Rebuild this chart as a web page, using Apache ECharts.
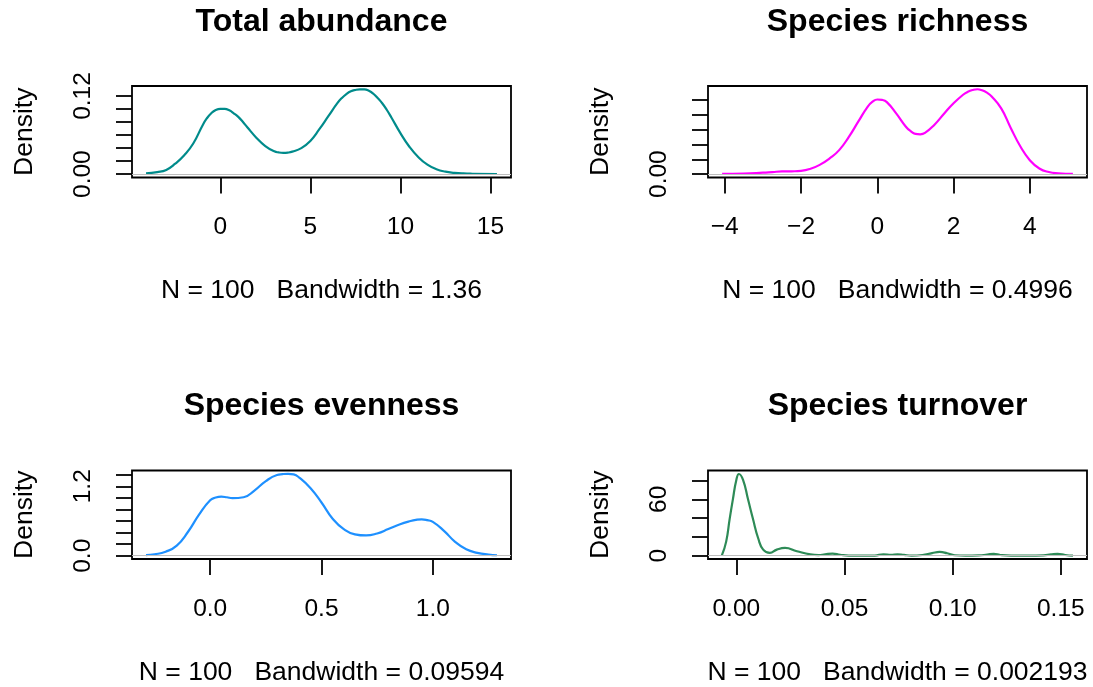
<!DOCTYPE html>
<html>
<head>
<meta charset="utf-8">
<script src="https://cdn.jsdelivr.net/npm/echarts@6/dist/echarts.min.js"></script>
<style>
  html, body { margin: 0; padding: 0; background: #fff; }
  #chart { width: 1093px; height: 687px; }
</style>
</head>
<body>
<div id="chart"></div>
<script>
// panel titles and x-axis captions
const titles = ["Total abundance", "Species richness", "Species evenness", "Species turnover"];
const xlabs = [
  "N = 100   Bandwidth = 1.36",
  "N = 100   Bandwidth = 0.4996",
  "N = 100   Bandwidth = 0.09594",
  "N = 100   Bandwidth = 0.002193"
];

// density curves
const abundX = [-4.12, -3.5, -3.0, -2.5, -2.0, -1.5, -1.0, -0.75, -0.5, -0.25, 0.0, 0.25, 0.5, 0.75, 1.0, 1.25, 1.5, 2.0, 2.5, 3.0, 3.25, 3.5, 3.75, 4.0, 4.5, 5.0, 5.5, 6.0, 6.5, 6.75, 7.0, 7.25, 7.5, 7.75, 8.0, 8.25, 8.5, 8.75, 9.0, 9.25, 9.5, 10.0, 10.5, 11.0, 11.5, 12.0, 12.5, 13.0, 13.5, 14.0, 15.36];
const abundY = [0.001, 0.003, 0.0065, 0.016, 0.029, 0.047, 0.074, 0.0855, 0.0935, 0.0985, 0.1004, 0.1003, 0.098, 0.0935, 0.088, 0.0805, 0.072, 0.056, 0.043, 0.035, 0.0333, 0.0327, 0.0331, 0.0345, 0.040, 0.051, 0.069, 0.089, 0.109, 0.117, 0.123, 0.1272, 0.1293, 0.1302, 0.1301, 0.128, 0.1235, 0.1165, 0.1085, 0.0985, 0.087, 0.063, 0.042, 0.026, 0.0145, 0.0075, 0.0038, 0.002, 0.001, 0.0006, 0.0002];

const richX = [-4.07, -3.5, -3.0, -2.75, -2.5, -2.25, -2.0, -1.75, -1.5, -1.25, -1.0, -0.75, -0.5, -0.25, -0.125, 0.0, 0.125, 0.25, 0.5, 0.75, 0.875, 1.0, 1.125, 1.25, 1.5, 1.75, 2.0, 2.25, 2.375, 2.5, 2.625, 2.75, 2.875, 3.0, 3.25, 3.5, 3.75, 4.0, 4.25, 4.5, 4.75, 5.13];
const richY = [0.001, 0.002, 0.005, 0.007, 0.009, 0.0095, 0.011, 0.018, 0.032, 0.053, 0.081, 0.125, 0.177, 0.228, 0.2445, 0.252, 0.2505, 0.243, 0.204, 0.160, 0.145, 0.136, 0.1345, 0.139, 0.167, 0.204, 0.239, 0.268, 0.278, 0.284, 0.2865, 0.283, 0.275, 0.262, 0.222, 0.156, 0.094, 0.047, 0.019, 0.007, 0.003, 0.001];

const evenX = [-0.288, -0.25, -0.2, -0.15, -0.1, -0.05, 0.0, 0.025, 0.05, 0.075, 0.1, 0.15, 0.2, 0.25, 0.3, 0.325, 0.35, 0.375, 0.4, 0.45, 0.5, 0.55, 0.6, 0.65, 0.7, 0.75, 0.8, 0.85, 0.9, 0.925, 0.95, 0.975, 1.0, 1.05, 1.1, 1.15, 1.2, 1.25, 1.288];
const evenY = [0.011, 0.025, 0.07, 0.175, 0.41, 0.71, 0.96, 1.005, 1.02, 1.01, 0.995, 1.01, 1.13, 1.29, 1.395, 1.41, 1.416, 1.405, 1.35, 1.17, 0.92, 0.64, 0.46, 0.37, 0.35, 0.385, 0.46, 0.54, 0.6, 0.62, 0.628, 0.615, 0.585, 0.43, 0.24, 0.11, 0.05, 0.02, 0.008];

const turnX = [-0.0067, -0.0047, -0.0031, -0.0016, 0.0, 0.0012, 0.0031, 0.0054, 0.0077, 0.0101, 0.0124, 0.0155, 0.0187, 0.0225, 0.028, 0.0342, 0.038, 0.041, 0.0445, 0.048, 0.052, 0.058, 0.064, 0.068, 0.0715, 0.0745, 0.0775, 0.081, 0.086, 0.0905, 0.094, 0.0975, 0.101, 0.106, 0.112, 0.116, 0.119, 0.122, 0.127, 0.135, 0.142, 0.1455, 0.1485, 0.152, 0.1556];
const turnY = [0.3, 15, 39, 60, 80.7, 87, 80.7, 60, 39, 18.6, 6.5, 3.1, 6.5, 8.3, 4.8, 1.4, 0.7, 1.5, 2.3, 1.0, 0.1, 0.05, 0.2, 1.5, 0.8, 1.5, 0.8, 0.2, 0.8, 2.8, 4.0, 2.6, 0.5, 0.05, 0.3, 1.2, 2.0, 0.8, 0.1, 0.05, 0.3, 1.4, 2.0, 0.8, 0.1];

// axis ranges (R pads the data range by 4%)
const xLims = [[-4.9, 16.14], [-4.44, 5.50], [-0.351, 1.351], [-0.0131, 0.1621]];
const yLims = [[-0.0052, 0.1354], [-0.0114, 0.2975], [-0.0566, 1.4726], [-3.49, 90.7]];

// ticks and the labels R kept
const xTicks = [[0, 5, 10, 15], [-4, -2, 0, 2, 4], [0, 0.5, 1], [0, 0.05, 0.1, 0.15]];
const xTickLabels = [["0", "5", "10", "15"], ["\u22124", "\u22122", "0", "2", "4"], ["0.0", "0.5", "1.0"], ["0.00", "0.05", "0.10", "0.15"]];
const yTicks = [[0, 0.02, 0.04, 0.06, 0.08, 0.1, 0.12], [0, 0.05, 0.1, 0.15, 0.2, 0.25], [0, 0.2, 0.4, 0.6, 0.8, 1, 1.2, 1.4], [0, 20, 40, 60, 80]];
const yLabelTicks = [[0, 0.12], [0], [0, 1.2], [0, 60]];
const yLabelText = [["0.00", "0.12"], ["0.00"], ["0.0", "1.2"], ["0", "60"]];

const colors = ["#008B8B", "#FF00FF", "#1E90FF", "#2E8B57"];
const curves = [[abundX, abundY], [richX, richY], [evenX, evenY], [turnX, turnY]];

const FONT = "Liberation Sans, Arial, Helvetica, sans-serif";
const grids = [
  { left: 132, top: 86, width: 379, height: 91.5 },
  { left: 708, top: 86, width: 379, height: 91.5 },
  { left: 132, top: 470.5, width: 379, height: 91 },
  { left: 708, top: 470.5, width: 379, height: 91 }
];

const tickStyle = { show: true, inside: false, length: 16, lineStyle: { color: "#000", width: 1.8 } };

const xAxis = [];
const yAxis = [];
const series = [];

grids.forEach((g, i) => {
  g.show = true;
  g.borderColor = "#000";
  g.borderWidth = 1.8;
  g.backgroundColor = "transparent";

  // bottom axis with ticks, labels and the N / bandwidth caption
  xAxis.push({
    type: "value",
    gridIndex: i,
    position: "bottom",
    min: xLims[i][0],
    max: xLims[i][1],
    axisLine: { show: false, onZero: false },
    splitLine: { show: false },
    axisTick: Object.assign({ customValues: xTicks[i] }, tickStyle),
    axisLabel: {
      customValues: xTicks[i],
      formatter: (v) => xTickLabels[i][xTicks[i].indexOf(v)],
      color: "#000",
      fontSize: 24.5,
      fontFamily: FONT,
      margin: 37.5
    },
    name: xlabs[i],
    nameLocation: "middle",
    nameGap: 100,
    nameTextStyle: { color: "#000", fontSize: 26.5, fontFamily: FONT }
  });
  // top axis only carries the panel title
  xAxis.push({
    type: "value",
    gridIndex: i,
    position: "top",
    min: 0,
    max: 1,
    axisLine: { show: false, onZero: false },
    axisTick: { show: false },
    axisLabel: { show: false },
    splitLine: { show: false },
    name: titles[i],
    nameLocation: "middle",
    nameGap: 48,
    nameTextStyle: { color: "#000", fontSize: 32, fontWeight: "bold", fontFamily: FONT }
  });

  yAxis.push({
    type: "value",
    gridIndex: i,
    min: yLims[i][0],
    max: yLims[i][1],
    axisLine: { show: false, onZero: false },
    splitLine: { show: false },
    axisTick: Object.assign({ customValues: yTicks[i] }, tickStyle),
    axisLabel: {
      customValues: yLabelTicks[i],
      formatter: (v) => yLabelText[i][yLabelTicks[i].indexOf(v)],
      rotate: 90,
      color: "#000",
      fontSize: 24.5,
      fontFamily: FONT,
      margin: 36
    },
    name: "Density",
    nameLocation: "middle",
    nameRotate: 90,
    nameGap: 94,
    nameTextStyle: { color: "#000", fontSize: 26.5, fontFamily: FONT }
  });

  const xs = curves[i][0];
  const ys = curves[i][1];
  series.push({
    type: "line",
    xAxisIndex: i * 2,
    yAxisIndex: i,
    data: xs.map((x, k) => [x, ys[k]]),
    smooth: true,
    showSymbol: false,
    lineStyle: { color: colors[i], width: 2.2 },
    markLine: {
      silent: true,
      symbol: "none",
      label: { show: false },
      lineStyle: { color: "#bebebe", width: 1, type: "solid" },
      data: [{ yAxis: 0 }]
    }
  });
});

const chart = echarts.init(document.getElementById("chart"));
chart.setOption({
  animation: false,
  backgroundColor: "#fff",
  grid: grids,
  xAxis: xAxis,
  yAxis: yAxis,
  series: series
});
</script>
</body>
</html>
